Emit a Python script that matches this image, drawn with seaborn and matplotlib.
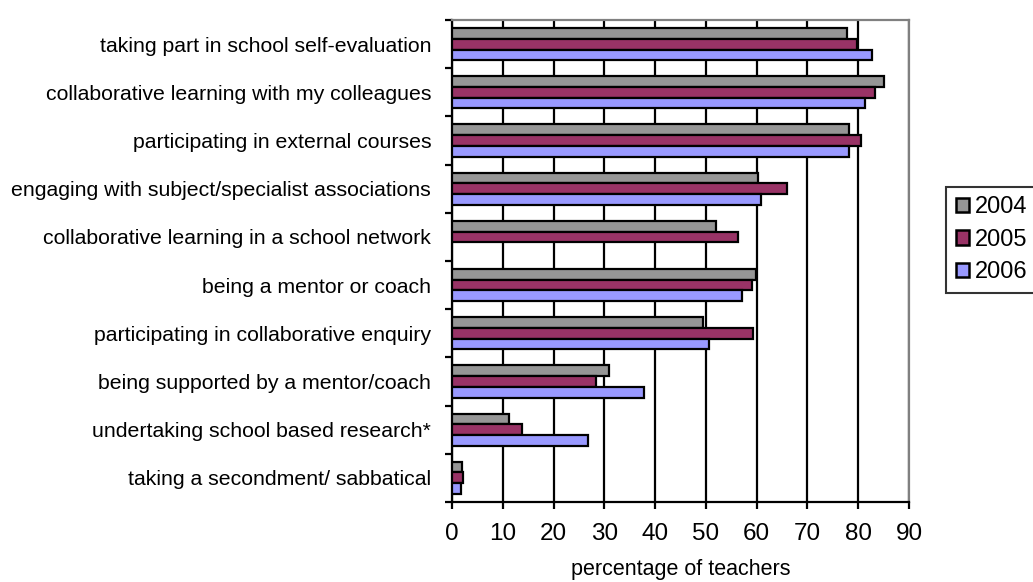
import pandas as pd
import matplotlib.pyplot as plt
import seaborn as sns
from matplotlib.ticker import MultipleLocator

# Data
activities = [
    'taking part in school self-evaluation',
    'collaborative learning with my colleagues',
    'participating in external courses',
    'engaging with subject/specialist associations',
    'collaborative learning in a school network',
    'being a mentor or coach',
    'participating in collaborative enquiry',
    'being supported by a mentor/coach',
    'undertaking school based research*',
    'taking a secondment/ sabbatical',
]
years = ['2004', '2005', '2006']
pct_2004 = [77.7, 85.1, 78.1, 60.2, 51.9, 59.9, 49.5, 31.0, 11.3, 1.9]
pct_2005 = [79.8, 83.2, 80.6, 66.0, 56.3, 59.1, 59.3, 28.4, 13.8, 2.2]
pct_2006 = [82.8, 81.4, 78.1, 60.8, None, 57.2, 50.6, 37.9, 26.7, 1.8]

# Long format for seaborn
rows = []
for yr, vals in zip(years, [pct_2004, pct_2005, pct_2006]):
    for act, v in zip(activities, vals):
        rows.append({'activity': act, 'year': yr, 'pct': v})
data = pd.DataFrame(rows)

palette = {'2004': '#969696', '2005': '#993366', '2006': '#9999FF'}

sns.set_style('white')
plt.rcParams['font.family'] = ['Liberation Sans', 'DejaVu Sans']
plt.rcParams['text.color'] = 'black'
plt.rcParams['xtick.color'] = 'black'
plt.rcParams['ytick.color'] = 'black'
plt.rcParams['axes.labelcolor'] = 'black'

fig = plt.figure(figsize=(10.33, 5.82), dpi=100)
ax = fig.add_axes([0.4376, 0.1375, 0.4424, 0.8281])

sns.barplot(data=data, y='activity', x='pct', hue='year', order=activities,
            hue_order=years, palette=palette, orient='h', width=0.67,
            edgecolor='black', linewidth=1.6, saturation=1, ax=ax, zorder=3)

ax.set_xlim(0, 90)
ax.set_ylim(len(activities) - 0.5, -0.5)
ax.xaxis.set_major_locator(MultipleLocator(10))
ax.grid(axis='x', color='black', linewidth=1.6, zorder=0)
ax.set_axisbelow(True)

# y ticks at category boundaries
ax.set_yticks([i - 0.5 for i in range(len(activities) + 1)], minor=True)
ax.tick_params(axis='y', which='minor', length=5, width=1.6, color='black', left=True)
ax.tick_params(axis='y', which='major', length=0, labelsize=15.3, pad=15)
ax.tick_params(axis='x', length=5, width=1.6, color='black', bottom=True,
               labelsize=17.5, pad=10)

for side in ['left', 'bottom']:
    ax.spines[side].set_color('black')
    ax.spines[side].set_linewidth(1.6)
for side in ['right', 'top']:
    ax.spines[side].set_color('#808080')
    ax.spines[side].set_linewidth(1.6)

ax.set_ylabel('')
ax.set_xlabel('percentage of teachers', fontsize=15.5, labelpad=10)

leg = ax.legend(loc='center left', bbox_to_anchor=(0.916, 0.588),
                bbox_transform=fig.transFigure, frameon=True, fancybox=False,
                fontsize=17, handlelength=0.55, handleheight=0.55,
                handletextpad=0.25, borderpad=0.4, labelspacing=0.45,
                borderaxespad=0)
leg.get_frame().set_edgecolor('black')
leg.get_frame().set_linewidth(1.5)
for h in leg.legend_handles:
    h.set_edgecolor('black')
    h.set_linewidth(1.8)

fig.savefig('out.png', dpi=100)
plt.close(fig)
